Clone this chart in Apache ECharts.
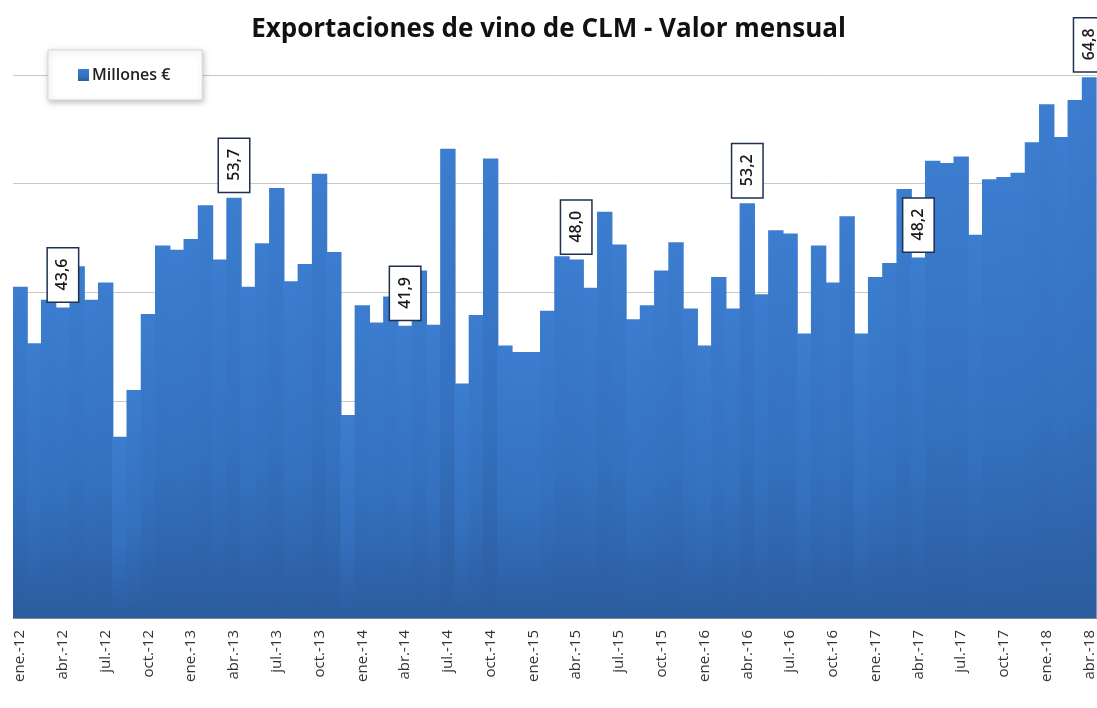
<!DOCTYPE html>
<html>
<head>
<meta charset="utf-8">
<script src="https://cdn.jsdelivr.net/npm/echarts@6/dist/echarts.min.js"></script>
<style>
  html, body { margin: 0; padding: 0; background: #fff; }
  #chart { width: 1097px; height: 708px; }
</style>
</head>
<body>
<div id="chart"></div>
<script>
// meses y años del eje
var months = ['ene.', 'feb.', 'mar.', 'abr.', 'may.', 'jun.', 'jul.', 'ago.', 'sep.', 'oct.', 'nov.', 'dic.'];
var years = ['12', '13', '14', '15', '16', '17', '18'];

// valor mensual, millones de euros (ene-12 .. abr-18)
var v2012 = [45.5, 40.3, 44.3, 43.6, 47.4, 44.3, 45.9, 31.7, 36.0, 43.0, 49.3, 48.9];
var v2013 = [49.9, 53.0, 48.0, 53.7, 45.5, 49.5, 54.6, 46.0, 47.6, 55.9, 48.7, 33.7];
var v2014 = [43.8, 42.2, 44.6, 41.9, 47.0, 42.0, 58.2, 36.6, 42.9, 57.3, 40.1, 39.5];
var v2015 = [39.5, 43.3, 48.3, 48.0, 45.4, 52.4, 49.4, 42.5, 43.8, 47.0, 49.6, 43.5];
var v2016 = [40.1, 46.4, 43.5, 53.2, 44.8, 50.7, 50.4, 41.2, 49.3, 45.9, 52.0, 41.2];
var v2017 = [46.4, 47.7, 54.5, 48.2, 57.1, 56.9, 57.5, 50.3, 55.4, 55.6, 56.0, 58.8];
var v2018 = [62.3, 59.3, 62.7, 64.8];

// meses con etiqueta de dato (abril de cada año)
var labeledMonths = ['abr.-12', 'abr.-13', 'abr.-14', 'abr.-15', 'abr.-16', 'abr.-17', 'abr.-18'];

var values = [].concat(v2012, v2013, v2014, v2015, v2016, v2017, v2018);
var categories = [];
years.forEach(function (y) {
  months.forEach(function (m) {
    if (categories.length < values.length) categories.push(m + '-' + y);
  });
});

var barData = values.map(function (v, i) {
  if (labeledMonths.indexOf(categories[i]) < 0) return v;
  return {
    value: v,
    label: {
      show: true,
      position: 'top',
      distance: 6,
      rotate: 90,
      align: 'left',
      verticalAlign: 'middle',
      formatter: function (p) { return p.value.toFixed(1).replace('.', ','); },
      color: '#1a1a1a',
      fontFamily: 'Open Sans',
      fontWeight: 600,
      fontSize: 16,
      lineHeight: 20,
      backgroundColor: '#fff',
      borderColor: '#1f2f4f',
      borderWidth: 1.5,
      padding: [5, 10, 5, 11]
    }
  };
});

var barGradient = new echarts.graphic.LinearGradient(0, 0, 0, 1, [
  { offset: 0, color: '#3c7dcf' },
  { offset: 0.6, color: '#3470be' },
  { offset: 1, color: '#2b5c9e' }
]);

var myChart = echarts.init(document.getElementById('chart'));
myChart.setOption({
  animation: false,
  title: {
    text: 'Exportaciones de vino de CLM - Valor mensual',
    left: 'center',
    top: 12,
    textStyle: {
      fontFamily: 'Open Sans',
      fontWeight: 'bold',
      fontSize: 26,
      color: '#111'
    }
  },
  legend: {
    left: 48,
    top: 50,
    padding: [17, 32, 17, 30],
    backgroundColor: '#fff',
    borderColor: '#d6d6d6',
    borderWidth: 1,
    shadowBlur: 6,
    shadowColor: 'rgba(0,0,0,0.25)',
    shadowOffsetX: 1,
    shadowOffsetY: 2,
    icon: 'rect',
    itemWidth: 11,
    itemHeight: 12,
    itemGap: 4,
    textStyle: { fontFamily: 'Open Sans', fontWeight: 600, fontSize: 16, color: '#222', padding: [0, 0, 0, -2] },
    data: ['Millones €']
  },
  grid: {
    left: 13,
    right: -1,
    top: 75,
    bottom: 90,
    containLabel: false
  },
  xAxis: {
    type: 'category',
    data: categories,
    boundaryGap: true,
    axisLine: { lineStyle: { color: '#8a8a8a', width: 1 } },
    axisTick: { interval: 2, length: 6, lineStyle: { color: '#8a8a8a' } },
    axisLabel: {
      interval: 2,
      rotate: 90,
      margin: 12,
      fontFamily: 'Open Sans',
      fontSize: 15,
      color: '#333'
    }
  },
  yAxis: {
    type: 'value',
    min: 15,
    max: 65,
    interval: 10,
    axisLabel: { show: false },
    axisTick: { show: false },
    axisLine: { show: false },
    splitLine: { lineStyle: { color: '#c8c8c8', width: 1 } }
  },
  series: [{
    name: 'Millones €',
    type: 'bar',
    barWidth: 15.4,
    data: barData,
    itemStyle: { color: barGradient }
  }]
});
</script>
</body>
</html>
